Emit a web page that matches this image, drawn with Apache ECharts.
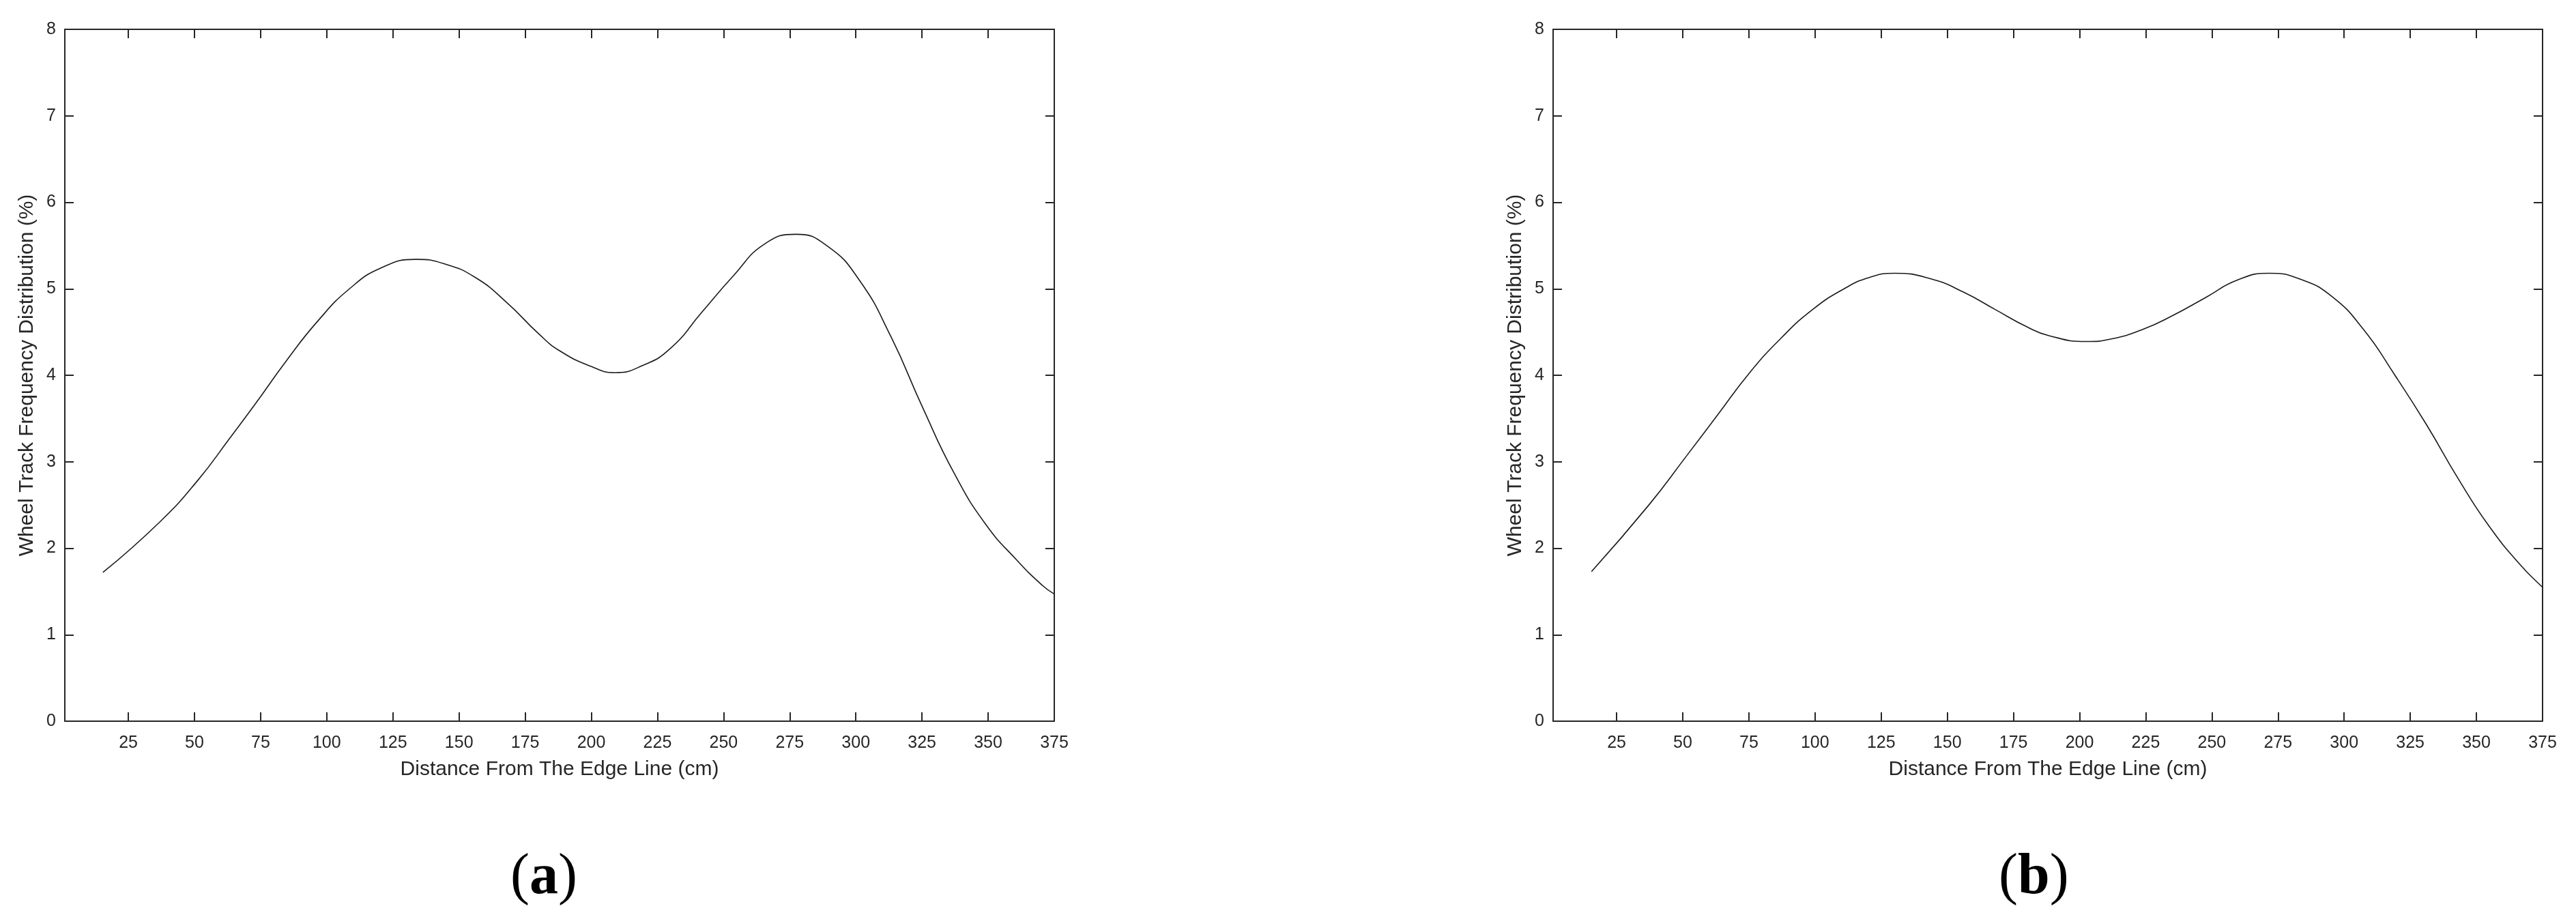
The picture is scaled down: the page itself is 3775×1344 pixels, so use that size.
<!DOCTYPE html>
<html>
<head>
<meta charset="utf-8">
<script src="https://cdn.jsdelivr.net/npm/echarts@6/dist/echarts.min.js"></script>
<style>
html,body{margin:0;padding:0;background:#fff;}
#chart{width:3775px;height:1344px;}
</style>
</head>
<body>
<div id="chart"></div>
<script>
// ---- data ----
const xTicks = [25, 50, 75, 100, 125, 150, 175, 200, 225, 250, 275, 300, 325, 350, 375];
const yTicks = [0, 1, 2, 3, 4, 5, 6, 7, 8];

const distA = [15.4, 37.1, 51.4, 63.3, 72.8, 84.8, 96.7, 108.6, 120.5, 133.6, 144.3, 156.2, 168.1, 180.1, 188.2, 200.1, 209.0, 219.2, 229.9, 241.8, 253.7, 265.6, 277.5, 289.4, 301.3, 313.2, 325.2, 337.1, 349.0, 360.9, 370.5, 375];
const freqA = [1.72, 2.31, 2.79, 3.27, 3.66, 4.17, 4.63, 5.00, 5.24, 5.34, 5.29, 5.13, 4.84, 4.48, 4.28, 4.10, 4.03, 4.11, 4.31, 4.73, 5.15, 5.52, 5.63, 5.49, 5.10, 4.45, 3.63, 2.87, 2.28, 1.86, 1.57, 1.47];

const distB = [15.5, 37.2, 51.5, 63.4, 75.3, 87.2, 99.1, 111.0, 120.5, 130.1, 144.3, 156.2, 168.1, 180.1, 188.2, 202.5, 212.0, 223.9, 235.8, 247.7, 259.6, 271.6, 283.5, 295.4, 307.3, 319.2, 331.1, 343.0, 354.9, 366.8, 373.9, 375];
const freqB = [1.73, 2.50, 3.07, 3.55, 4.03, 4.43, 4.76, 5.00, 5.13, 5.18, 5.11, 4.96, 4.76, 4.56, 4.46, 4.39, 4.42, 4.53, 4.70, 4.90, 5.10, 5.18, 5.11, 4.91, 4.53, 4.00, 3.43, 2.81, 2.25, 1.80, 1.58, 1.55];

const xName = 'Distance From The Edge Line (cm)';
const yName = 'Wheel Track Frequency Distribution (%)';
const captions = ['a', 'b'];

// ---- styling ----
const AX = '#262626';
const FONT = '"Liberation Sans", Arial, Helvetica, sans-serif';
const XMIN = 1, XMAX = 375;

const grids = [
  {left: 95, top: 43, width: 1450, height: 1014},
  {left: 2276, top: 43, width: 1450, height: 1014}
];

const xAxes = [], yAxes = [], series = [];
const datasets = [[distA, freqA], [distB, freqB]];

grids.forEach((g, i) => {
  xAxes.push({
    type: 'value', gridIndex: i, position: 'bottom', min: XMIN, max: XMAX,
    axisLine: {show: true, onZero: false, lineStyle: {color: AX, width: 2}},
    axisTick: {show: true, inside: true, length: 13, lineStyle: {color: AX, width: 2}, customValues: xTicks},
    axisLabel: {show: true, customValues: xTicks, color: AX, fontSize: 25, fontFamily: FONT, margin: 20},
    splitLine: {show: false},
    name: xName, nameLocation: 'middle', nameGap: 56,
    nameTextStyle: {color: AX, fontSize: 30, fontFamily: FONT}
  });
  xAxes.push({
    type: 'value', gridIndex: i, position: 'top', min: XMIN, max: XMAX,
    axisLine: {show: true, onZero: false, lineStyle: {color: AX, width: 2}},
    axisTick: {show: true, inside: true, length: 13, lineStyle: {color: AX, width: 2}, customValues: xTicks},
    axisLabel: {show: false},
    splitLine: {show: false}
  });
  yAxes.push({
    type: 'value', gridIndex: i, position: 'left', min: 0, max: 8, interval: 1,
    axisLine: {show: true, onZero: false, lineStyle: {color: AX, width: 2}},
    axisTick: {show: true, inside: true, length: 13, lineStyle: {color: AX, width: 2}},
    axisLabel: {show: true, color: AX, fontSize: 25, fontFamily: FONT, margin: 13},
    splitLine: {show: false},
    name: yName, nameLocation: 'middle', nameRotate: 90, nameGap: 40,
    nameTextStyle: {color: AX, fontSize: 30, fontFamily: FONT}
  });
  yAxes.push({
    type: 'value', gridIndex: i, position: 'right', min: 0, max: 8, interval: 1,
    axisLine: {show: true, onZero: false, lineStyle: {color: AX, width: 2}},
    axisTick: {show: true, inside: true, length: 13, lineStyle: {color: AX, width: 2}},
    axisLabel: {show: false},
    splitLine: {show: false}
  });
  const [xs, ys] = datasets[i];
  series.push({
    type: 'line', xAxisIndex: i * 2, yAxisIndex: i * 2,
    data: xs.map((x, k) => [x, ys[k]]),
    showSymbol: false, smooth: 0.5,
    lineStyle: {color: '#1a1a1a', width: 1.6},
    z: 5
  });
});

const capX = [788, 2969];
const graphic = captions.map((c, i) => ({
  type: 'text', left: capX[i] - 40, top: 1245,
  style: {
    text: '{p|(}{b|' + c + '}{p|)}',
    rich: {
      p: {fontFamily: '"Liberation Serif", "Times New Roman", serif', fontSize: 84, fill: '#000'},
      b: {fontFamily: '"Liberation Serif", "Times New Roman", serif', fontSize: 84, fontWeight: 'bold', fill: '#000'}
    }
  }
}));

const chart = echarts.init(document.getElementById('chart'), null, {renderer: 'canvas'});
chart.setOption({
  animation: false,
  backgroundColor: '#fff',
  grid: grids,
  xAxis: xAxes,
  yAxis: yAxes,
  series: series,
  graphic: graphic
});
</script>
</body>
</html>
